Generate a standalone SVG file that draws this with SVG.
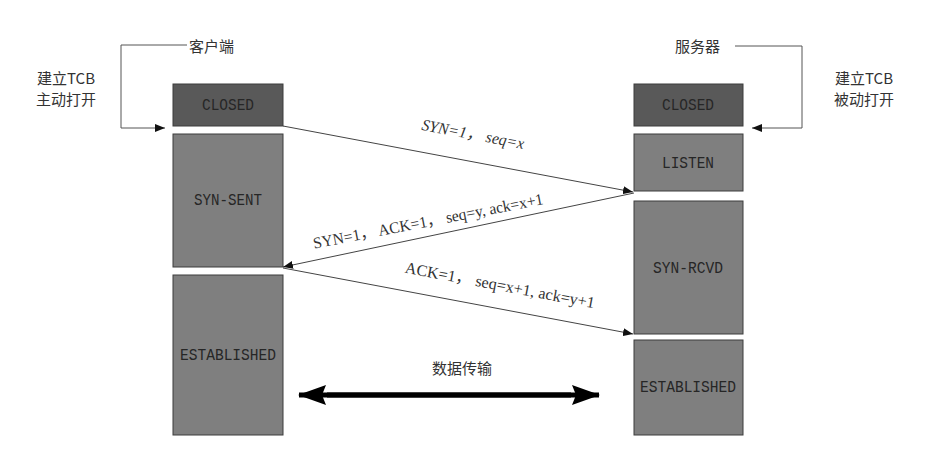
<svg xmlns="http://www.w3.org/2000/svg" width="925" height="473" viewBox="0 0 925 473">
<style>
.box{fill:#7f7f7f;stroke:#3c3c3c;stroke-width:1}
.dark{fill:#595959;stroke:#3c3c3c;stroke-width:1}
.st{font-family:"Liberation Mono","DejaVu Sans Mono",monospace;font-size:17px;fill:#262626;text-anchor:middle;dominant-baseline:central}
.cn{font-family:"Noto Sans CJK SC","Noto Sans",sans-serif;font-size:15px;fill:#333;dominant-baseline:central}
.msg{font-family:"Liberation Serif","Noto Sans CJK SC",serif;font-size:16px;fill:#333;text-anchor:middle;dominant-baseline:central}
.ln{stroke:#444;stroke-width:1;fill:none}
.br{stroke:#555;stroke-width:1;fill:none}
</style>
<defs>
<marker id="ah" markerWidth="10" markerHeight="8" refX="10" refY="4" orient="auto" markerUnits="userSpaceOnUse">
<path d="M0,0 L10,4 L0,8 Z" fill="#111"/>
</marker>
<marker id="big" markerWidth="28" markerHeight="20" refX="27" refY="10" orient="auto" markerUnits="userSpaceOnUse">
<path d="M0,0 L28,10 L0,20 L4,10 Z" fill="#000"/>
</marker>
</defs>

<g id="client-label">
<text class="cn" x="189" y="45">客户端</text>
<text class="cn" x="66" y="77" text-anchor="middle">建立TCB</text>
<text class="cn" x="66" y="98" text-anchor="middle">主动打开</text>
</g>
<g id="server-label">
<text class="cn" x="675" y="45">服务器</text>
<text class="cn" x="864" y="77" text-anchor="middle">建立TCB</text>
<text class="cn" x="864" y="98" text-anchor="middle">被动打开</text>
</g>

<g id="c-closed"><rect class="dark" x="173" y="84" width="110" height="42"/><text class="st" x="228" y="105" textLength="52" lengthAdjust="spacingAndGlyphs">CLOSED</text></g>
<g id="c-synsent"><rect class="box" x="173" y="134" width="110" height="133"/><text class="st" x="228" y="200" textLength="68" lengthAdjust="spacingAndGlyphs">SYN-SENT</text></g>
<g id="c-est"><rect class="box" x="173" y="275" width="110" height="160"/><text class="st" x="228" y="355" textLength="96" lengthAdjust="spacingAndGlyphs">ESTABLISHED</text></g>

<g id="s-closed"><rect class="dark" x="634" y="84" width="109" height="42"/><text class="st" x="688" y="105" textLength="52" lengthAdjust="spacingAndGlyphs">CLOSED</text></g>
<g id="s-listen"><rect class="box" x="634" y="134" width="109" height="57"/><text class="st" x="688" y="163" textLength="52" lengthAdjust="spacingAndGlyphs">LISTEN</text></g>
<g id="s-synrcvd"><rect class="box" x="634" y="201" width="109" height="133"/><text class="st" x="688" y="268" textLength="70" lengthAdjust="spacingAndGlyphs">SYN-RCVD</text></g>
<g id="s-est"><rect class="box" x="634" y="340" width="109" height="95"/><text class="st" x="688" y="387" textLength="96" lengthAdjust="spacingAndGlyphs">ESTABLISHED</text></g>

<g id="connectors">
<path class="br" d="M187,45 H121 V128 H165" marker-end="url(#ah)"/>
<path class="br" d="M735,46 H802 V128 H752" marker-end="url(#ah)"/>
<line class="ln" x1="283" y1="126" x2="633" y2="192" marker-end="url(#ah)"/>
<line class="ln" x1="634" y1="193" x2="283" y2="267" marker-end="url(#ah)"/>
<line class="ln" x1="283" y1="268" x2="633" y2="334" marker-end="url(#ah)"/>
<line x1="327" y1="395" x2="599" y2="395" stroke="#000" stroke-width="5" marker-end="url(#big)"/>
<line x1="571" y1="395" x2="299" y2="395" stroke="#000" stroke-width="5" marker-end="url(#big)"/>
<text class="msg" font-style="italic" transform="translate(473,134) rotate(10.6)" textLength="104" lengthAdjust="spacingAndGlyphs">SYN=1， seq=x</text>
<text class="msg" transform="translate(428,221) rotate(-11)" textLength="234" lengthAdjust="spacingAndGlyphs">SYN=1， ACK=1， seq=y, ack=x+1</text>
<text class="msg" transform="translate(500,285) rotate(10.7)" textLength="193" lengthAdjust="spacingAndGlyphs">ACK=1， seq=x+1, ack=y+1</text>
<text class="cn" x="462" y="367" text-anchor="middle">数据传输</text>
</g>
</svg>
